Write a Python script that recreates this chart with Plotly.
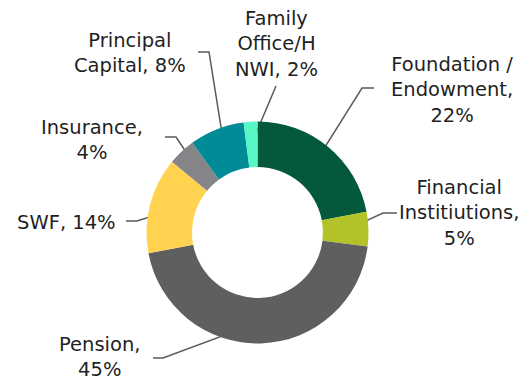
import math
import plotly.graph_objects as go

# Investor mix, clockwise from 12 o'clock
categories = ["Foundation / Endowment", "Financial Institiutions", "Pension",
              "SWF", "Insurance", "Principal Capital", "Family Office/HNWI"]
shares = [22, 5, 45, 14, 4, 8, 2]
label_text = [
    "Foundation /<br>Endowment,<br>22%",
    "Financial<br>Institiutions,<br>5%",
    "Pension,<br>45%",
    "SWF, 14%",
    "Insurance,<br>4%",
    "Principal<br>Capital, 8%",
    "Family<br>Office/H<br>NWI, 2%",
]
colors = ["#03593a", "#b3c226", "#5f5f5f", "#ffd350", "#858589", "#008b97", "#58f7c6"]

W, H = 521, 382
CX, CY = 257.5, 232.5      # donut centre (px)
R_OUT = 111.0
HOLE = 0.59
R_LEAD = 89.5               # where leader lines touch the ring

# label centre (px) and elbow start / end of the horizontal leg (px)
label_pos = [(452, 90), (459, 213), (100, 357), (66, 222), (92, 140), (130, 53), (276, 44)]
elbow = [((374, 88), (362, 88)), ((397, 213), (383, 213)), ((153, 358), (163, 358)),
         ((126, 221), (137, 221)), ((165, 137), (176, 137)), ((198, 52), (209, 52)),
         (None, (276, 86))]

fig = go.Figure()

fig.add_trace(go.Pie(
    labels=categories, values=shares, sort=False, direction="clockwise", rotation=0,
    hole=HOLE, marker=dict(colors=colors, line=dict(width=0)),
    textinfo="none", hoverinfo="label+percent", showlegend=False,
    domain=dict(x=[(CX - R_OUT) / W, (CX + R_OUT) / W],
                y=[1 - (CY + R_OUT) / H, 1 - (CY - R_OUT) / H]),
))

total = sum(shares)
cum = 0.0
for i, v in enumerate(shares):
    mid = (cum + v / 2) / total * 2 * math.pi
    cum += v
    px = CX + R_LEAD * math.sin(mid)
    py = CY - R_LEAD * math.cos(mid)
    a, b = elbow[i]
    xs, ys = [], []
    if a is not None:
        xs.append(a[0]); ys.append(a[1])
    xs += [b[0], px]; ys += [b[1], py]
    fig.add_trace(go.Scatter(x=xs, y=ys, mode="lines", line=dict(color="#5a5a5a", width=1.5),
                             hoverinfo="skip", showlegend=False))
    fig.add_annotation(x=label_pos[i][0], y=label_pos[i][1], xref="x", yref="y",
                       text=label_text[i], showarrow=False, align="center",
                       font=dict(family="DejaVu Sans", size=19.5, color="#1f1f1f"))

fig.update_xaxes(range=[0, W], visible=False, fixedrange=True)
fig.update_yaxes(range=[H, 0], visible=False, fixedrange=True)
fig.update_layout(width=W, height=H, margin=dict(l=0, r=0, t=0, b=0),
                  paper_bgcolor="white", plot_bgcolor="rgba(0,0,0,0)")

fig.write_html("out.html")
